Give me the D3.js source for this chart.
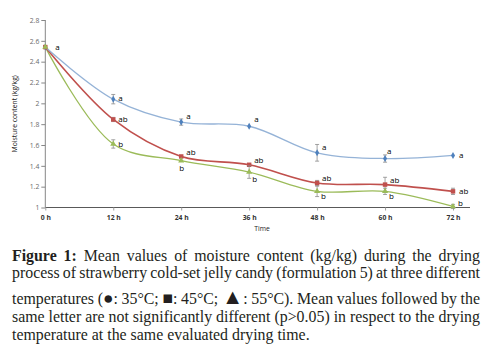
<!DOCTYPE html>
<html>
<head>
<meta charset="utf-8">
<script src="https://cdn.jsdelivr.net/npm/d3@7"></script>
<style>
  body { margin: 0; background: #fff; }
  svg { display: block; }
</style>
</head>
<body>
<div id="container"></div>
<script>
// drying times (h)
const hours = [0, 12, 24, 36, 48, 60, 72];
const yTicks = [1, 1.2, 1.4, 1.6, 1.8, 2, 2.2, 2.4, 2.6, 2.8];

// mean moisture content (kg/kg)
const t35 = [2.54, 2.04, 1.82, 1.78, 1.525, 1.47, 1.50];
const t45 = [2.54, 1.845, 1.49, 1.41, 1.235, 1.22, 1.155];
const t55 = [2.54, 1.61, 1.45, 1.34, 1.155, 1.155, 1.01];

// standard deviations
const e35 = [0.01, 0.045, 0.03, 0.01, 0.08, 0.035, 0.01];
const e45 = [0.01, 0.02, 0.01, 0.01, 0.025, 0.07, 0.03];
const e55 = [0.01, 0.04, 0.01, 0.06, 0.05, 0.03, 0.02];

// significance letters
const l35 = ["a", "a", "a", "a", "a", "a", "a"];
const l45 = ["", "ab", "ab", "ab", "ab", "ab", "ab"];
const l55 = ["", "b", "b", "b", "b", "b", "b"];

const captionLines = [
    "Figure 1: Mean values of moisture content (kg/kg) during the drying",
    "process of strawberry cold-set jelly candy (formulation 5) at three different",
    "temperatures (\u25CF: 35\u00B0C; \u25A0: 45\u00B0C; \u25B2: 55\u00B0C). Mean values followed by the",
    "same letter are not significantly different (p>0.05) in respect to the drying",
    "temperature at the same evaluated drying time."
];

const width = 498, height = 364;

const svg = d3.select("#container").append("svg")
    .attr("width", width)
    .attr("height", height);

const x = d3.scaleLinear().domain([0, 75]).range([45.3, 470]);
const y = d3.scaleLinear().domain([1, 2.8]).range([207.5, 20]);

const tickFont = "'Open Sans', 'Liberation Sans', Arial, sans-serif";

// axes
const yAxis = svg.append("g")
    .attr("transform", `translate(${x(0)},0)`)
    .call(d3.axisLeft(y).tickValues(yTicks).tickSize(4).tickPadding(2)
        .tickFormat(d => +d.toFixed(1)));
yAxis.select(".domain").attr("stroke", "#868686").attr("d", `M0,${y(2.8)}V${y(1)}`);
yAxis.selectAll(".tick line").attr("stroke", "#868686");
yAxis.selectAll(".tick text")
    .attr("font-family", tickFont).attr("font-size", 6.8).attr("fill", "#6a6a6a");

const xAxis = svg.append("g")
    .attr("transform", `translate(0,${y(1)})`)
    .call(d3.axisBottom(x).tickValues(hours).tickSize(3).tickPadding(5)
        .tickFormat(d => d + " h"));
xAxis.select(".domain").attr("stroke", "#595959").attr("d", `M${x(0)},0H${x(75)}`);
xAxis.selectAll(".tick line").attr("stroke", "#a0a0a0");
xAxis.selectAll(".tick text")
    .attr("font-family", tickFont).attr("font-size", 6.8)
    .attr("font-weight", "bold").attr("fill", "#333");

// axis titles
svg.append("text")
    .attr("x", 262).attr("y", 231)
    .attr("text-anchor", "middle")
    .attr("font-family", tickFont).attr("font-size", 6.8)
    .attr("fill", "#222").text("Time");

svg.append("text")
    .attr("transform", `translate(17,${y(1.9)}) rotate(-90)`)
    .attr("text-anchor", "middle")
    .attr("font-family", tickFont).attr("font-size", 6.8)
    .attr("fill", "#222").text("Moisture content (kg/kg)");

const series = [
    { values: t35, errors: e35, letters: l35, line: "#95b3d7", marker: "#4f81bd",
      symbol: d3.symbolDiamond, size: 14, width: 1.3,
      offsets: [[10, 3], [5, 2], [5, -3], [5, -4], [5, -3], [2, -5], [6, 3]] },
    { values: t45, errors: e45, letters: l45, line: "#c0504d", marker: "#c0504d",
      symbol: d3.symbolSquare, size: 20, width: 1.6,
      offsets: [[0, 0], [5, 3], [5, -1], [5, -2], [5, -2], [5, -2], [6, 3]] },
    { values: t55, errors: e55, letters: l55, line: "#9bbb59", marker: "#9bbb59",
      symbol: d3.symbolTriangle, size: 16, width: 1.3,
      offsets: [[0, 0], [5, 3], [-2, 10], [3, 10], [4, 8], [4, 8], [5, 0]] }
];

const line = d3.line()
    .x((d, i) => x(hours[i]))
    .y(d => y(d))
    .curve(d3.curveCatmullRom.alpha(0.5));

// draw in reverse so blue sits on top at the start
series.slice().reverse().forEach(s => {
    svg.append("path")
        .datum(s.values)
        .attr("d", line)
        .attr("fill", "none")
        .attr("stroke", s.line)
        .attr("stroke-width", s.width);
});

series.forEach(s => {
    const g = svg.append("g");
    const pts = s.values.map((v, i) => ({ v, e: s.errors[i], h: hours[i], l: s.letters[i], o: s.offsets[i] }));

    // error bars
    const eb = g.selectAll(".err").data(pts.filter(d => d.e > 0.015)).enter().append("g")
        .attr("stroke", "#8c8c8c").attr("stroke-width", 0.8);
    eb.append("line")
        .attr("x1", d => x(d.h)).attr("x2", d => x(d.h))
        .attr("y1", d => y(d.v + d.e)).attr("y2", d => y(d.v - d.e));
    eb.append("line")
        .attr("x1", d => x(d.h) - 2).attr("x2", d => x(d.h) + 2)
        .attr("y1", d => y(d.v + d.e)).attr("y2", d => y(d.v + d.e));
    eb.append("line")
        .attr("x1", d => x(d.h) - 2).attr("x2", d => x(d.h) + 2)
        .attr("y1", d => y(d.v - d.e)).attr("y2", d => y(d.v - d.e));

    // markers
    g.selectAll(".mk").data(pts).enter().append("path")
        .attr("d", d3.symbol().type(s.symbol).size(s.size))
        .attr("transform", d => `translate(${x(d.h)},${y(d.v)})`)
        .attr("fill", s.marker);

    // letters
    g.selectAll(".lt").data(pts.filter(d => d.l)).enter().append("text")
        .attr("x", d => x(d.h) + d.o[0])
        .attr("y", d => y(d.v) + d.o[1])
        .attr("font-family", tickFont).attr("font-size", 8)
        .attr("fill", "#000")
        .text(d => d.l);
});

// caption, justified line by line
const capFont = "'Liberation Serif', 'DejaVu Serif', serif";
const capLeft = 12, capRight = 480;
const baselines = [260.7, 278.3, 304, 321.7, 340];

const cap = svg.append("g").attr("fill", "#231f20");

// size the font so the last line keeps its natural width
const probe = cap.append("text").attr("font-family", capFont).attr("font-size", 13).text(captionLines[4]);
const capSize = 13 * 298 / probe.node().getComputedTextLength();
probe.remove();

captionLines.forEach((txt, li) => {
    const words = txt.split(" ");
    const nodes = words.map((w, wi) => {
        const t = cap.append("text")
            .attr("y", baselines[li])
            .attr("font-family", capFont)
            .attr("font-size", capSize)
            .attr("font-weight", li === 0 && wi < 2 ? "bold" : "normal");
        // legend symbols are set larger than the running text
        const sym = w.match(/^(\(?)([\u25CF\u25A0\u25B2])(.*)$/);
        if (sym) {
            t.append("tspan").text(sym[1]);
            t.append("tspan").attr("font-size", capSize * (sym[2] === "\u25B2" ? 1.35 : 1.1)).text(sym[2]);
            t.append("tspan").text(sym[3]);
        } else {
            t.text(w);
        }
        return t;
    });
    const widths = nodes.map(n => n.node().getComputedTextLength());
    const total = d3.sum(widths);
    const justify = li < captionLines.length - 1;
    const gap = justify ? (capRight - capLeft - total) / (words.length - 1) : capSize * 0.25;
    let cx = capLeft;
    nodes.forEach((n, i) => {
        n.attr("x", cx);
        cx += widths[i] + gap;
    });
});
</script>
</body>
</html>
